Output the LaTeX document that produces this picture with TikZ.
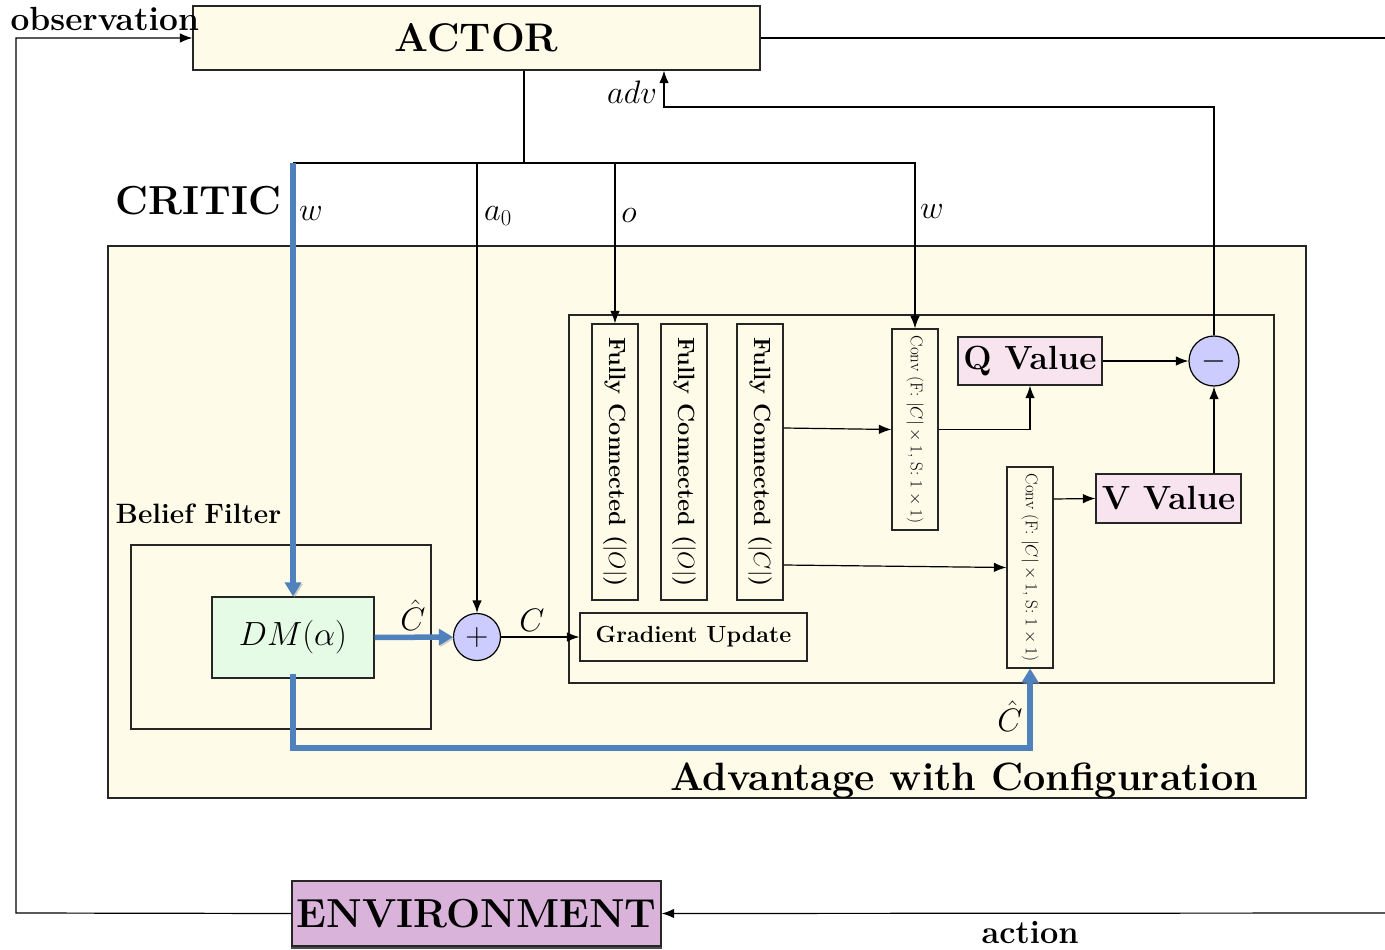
\RequirePackage{fix-cm}
\documentclass[tikz,border=0pt]{standalone}
\usepackage{fontspec}
\usetikzlibrary{arrows.meta,calc}
\newcommand\fz[1]{\fontsize{#1}{#1}\selectfont}
\definecolor{cream}{RGB}{254,251,233}
\definecolor{pinkv}{RGB}{248,228,238}
\definecolor{mint}{RGB}{229,251,229}
\definecolor{lav}{RGB}{204,204,255}
\definecolor{plum}{RGB}{217,179,218}
\definecolor{flowblue}{RGB}{79,129,189}
\tikzset{
  box/.style={draw=black!85, line width=1.2pt, inner sep=0pt},
  arr/.style={-{Latex[length=12.5pt,width=9.5pt]}},
  bluearr/.style={draw=flowblue, line width=5.5pt, -{Triangle[length=14pt,width=16pt]},
    preaction={draw=black!40, opacity=.45, transform canvas={xshift=1.5pt,yshift=-1.5pt}}},
  lab/.style={font=\fz{32.5}, inner sep=0pt},
  title/.style={anchor=base west, inner sep=0pt},
}
\begin{document}
\begin{tikzpicture}[x=1pt, y=-1pt, line width=1.2pt]
\useasboundingbox (0,0) rectangle (1385,950);

% actor and environment
\node[box, fill=cream, minimum width=567pt, minimum height=64pt, font=\fz{40}\bfseries] (actor) at (476.5,38) {ACTOR};
\node[box, fill=plum, minimum width=369pt, minimum height=65pt, font=\fz{40.5}\bfseries] (env) at (476.5,913.5) {ENVIRONMENT};
\draw[black!70, line width=2pt] ([yshift=-1pt]env.south west) -- ([yshift=-1pt]env.south east);

% critic frame
\node[box, fill=cream, minimum width=1198pt, minimum height=552pt] (critic) at (707,522) {};
\node[title, font=\fz{40.5}\bfseries] (criticlab) at (115,214) {CRITIC};
\node[box, minimum width=705pt, minimum height=368pt] (advbox) at (921.5,499) {};
\node[title, font=\fz{39.5}\bfseries] (advlab) at (670,790) {Advantage with Configuration};
\node[box, minimum width=300pt, minimum height=184pt] (belief) at (281,637) {};
\node[title, font=\fz{28}\bfseries] (belieflab) at (115,523) {Belief Filter};

% inner blocks
\node[box, fill=mint, minimum width=162pt, minimum height=81pt, font=\fz{33.5}] (dm) at (293,637.5) {$DM(\alpha)$};
\node[circle, draw=black, line width=1.2pt, fill=lav, minimum size=47pt, inner sep=0pt, font=\fz{32}] (plus) at (477,637) {$+$};
\node[box, minimum width=227pt, minimum height=48pt, font=\fz{23.3}\bfseries] (grad) at (693.5,637) {Gradient Update};
\node[box, minimum width=46pt, minimum height=276pt, font=\fz{23.5}\bfseries] (fc1) at (615,462) {\rotatebox{-90}{Fully Connected ($|O|$)}};
\node[box, minimum width=46pt, minimum height=276pt, font=\fz{23.5}\bfseries] (fc2) at (684,462) {\rotatebox{-90}{Fully Connected ($|O|$)}};
\node[box, minimum width=46pt, minimum height=276pt, font=\fz{23.5}\bfseries] (fc3) at (760,462) {\rotatebox{-90}{Fully Connected ($|C|$)}};
\node[box, minimum width=46pt, minimum height=201pt, font=\fz{17}] (conv1) at (915,429.5) {\rotatebox{-90}{Conv (F: $|C|\times 1$, S: $1\times 1$)}};
\node[box, minimum width=46pt, minimum height=201pt, font=\fz{17}] (conv2) at (1030,567.5) {\rotatebox{-90}{Conv (F: $|C|\times 1$, S: $1\times 1$)}};
\node[box, fill=pinkv, minimum width=144pt, minimum height=48pt, font=\fz{33.5}\bfseries] (q) at (1030,361) {Q Value};
\node[box, fill=pinkv, minimum width=145pt, minimum height=49pt, font=\fz{33.5}\bfseries] (v) at (1168.5,498.5) {V Value};
\node[circle, draw=black, line width=1.2pt, fill=lav, minimum size=50pt, inner sep=0pt, font=\fz{32}] (minus) at (1214,361) {$-$};

% outer loop
\coordinate (edgeT) at (1386,38);
\coordinate (edgeB) at (1386,913);
\coordinate (loopL) at (16,913);
\draw (actor.east) -- (edgeT);
\draw[arr] (edgeB) -- (env.east);
\draw[arr] (env.west) -- (loopL) |- (actor.west);
\node[title, font=\fz{33.5}\bfseries] (obslab) at (10,31) {observation};
\node[title, font=\fz{32.5}\bfseries] (actlab) at (981,943) {action};

% actor outputs to the critic
\coordinate (bus) at (524,163);
\coordinate (wtop) at (dm.north |- bus);
\draw (actor.south -| bus) -- (bus);
\draw (bus) -- (wtop);
\draw[arr] (bus) -| (plus.north);
\draw[arr] (bus) -| (fc1.north);
\draw[arr] (bus) -| (conv1.north);
\node[lab] at (311,214) {$w$};
\node[lab] at (498,216) {$a_0$};
\node[lab] at (629,216) {$o$};
\node[lab] at (932,212) {$w$};

% advantage feedback
\coordinate (advc) at (664,107);
\draw[arr] (minus.north) |- (advc) -- (advc |- actor.south);
\node[lab] at (632,92) {$adv$};

% critic internals
\draw[arr] (plus.east) -- (grad.west);
\node[lab] at (532,620) {$C$};
\draw[arr] ([yshift=34pt]fc3.east) -- (conv1.west);
\draw[arr] ([yshift=-103pt]fc3.east) -- (conv2.west);
\draw[arr] (conv1.east) -| (q.south);
\draw[arr] ([yshift=68.5pt]conv2.east) -- (v.west);
\draw[arr] (q.east) -- (minus.west);
\draw[arr] (minus.south |- v.north) -- (minus.south);

% belief filter flows
\draw[bluearr] (wtop) -- (dm.north);
\draw[bluearr] (dm.east) -- (plus.west);
\draw[bluearr] ([yshift=5pt]dm.south) -- ++(0,74.5) -| (conv2.south);
\node[lab] at (413,615) {$\hat{C}$};
\node[lab] at (1010,716) {$\hat{C}$};
\end{tikzpicture}
\end{document}
